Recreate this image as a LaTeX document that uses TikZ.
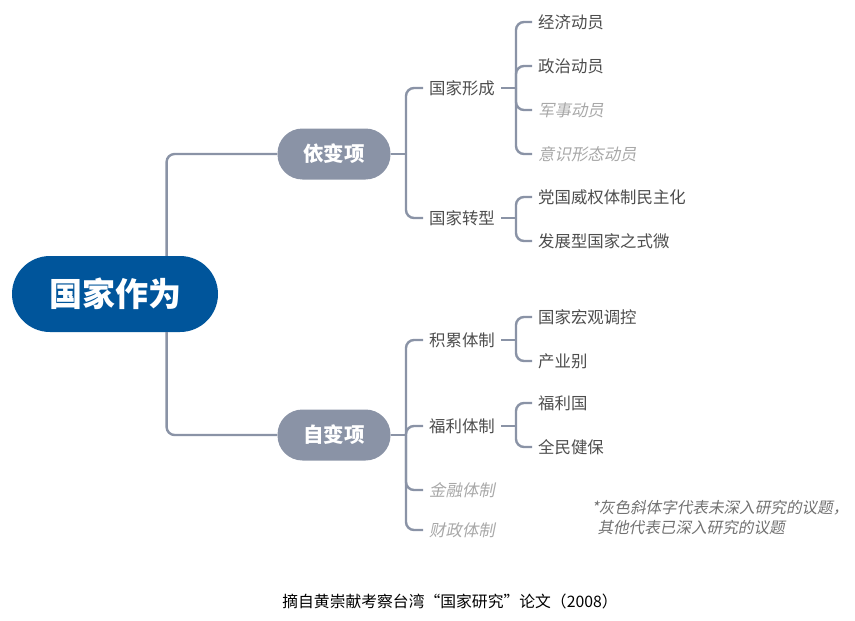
\documentclass[tikz,border=0pt]{standalone}
\usepackage{fontspec}
\setmainfont{Noto Sans CJK SC}
\newfontfamily\cjkslant[FakeSlant=0.2]{Noto Sans CJK SC}
\usetikzlibrary{calc}
\definecolor{rootblue}{HTML}{00559B}
\definecolor{branchgray}{HTML}{8A93A6}
\definecolor{textgray}{HTML}{4D4D4D}
\definecolor{fadegray}{HTML}{A8A8A8}
\begin{document}
\begin{tikzpicture}[x=1pt,y=-1pt,
	conn/.style={draw=branchgray, line width=2.4pt, rounded corners=8pt},
	rootnode/.style={fill=rootblue, text=white, rounded corners=38pt, minimum width=206pt, minimum height=76pt, font=\bfseries\fontsize{33}{36}\selectfont},
	mainnode/.style={fill=branchgray, text=white, rounded corners=25pt, minimum width=113pt, minimum height=51pt, font=\bfseries\fontsize{20.5}{24}\selectfont},
	item/.style={anchor=west, inner xsep=6pt, inner ysep=2pt, text=textgray, font=\fontsize{16.4}{19}\selectfont},
	faded/.style={item, text=fadegray, font=\cjkslant\fontsize{16.4}{19}\selectfont}]
	\useasboundingbox (0,0) rectangle (855,621);
	% root and the two main branches
	\node (root) at (115,294)	[rootnode]	{国家作为};
	\node (dep) at (334,154)	[mainnode]	{依变项};
	\node (indep) at (334,435)	[mainnode]	{自变项};
	% second level
	\node (form) at (423,88)	[item]	{国家形成};
	\node (trans) at (423,218)	[item]	{国家转型};
	\node (accum) at (423,340)	[item]	{积累体制};
	\node (welfare) at (423,426)	[item]	{福利体制};
	\node (finance) at (423,490)	[faded]	{金融体制};
	\node (fiscal) at (423,530)	[faded]	{财政体制};
	% third level
	\node (econ) at (532,22)	[item]	{经济动员};
	\node (polit) at (532,66)	[item]	{政治动员};
	\node (milit) at (532,110)	[faded]	{军事动员};
	\node (ideol) at (532,154)	[faded]	{意识形态动员};
	\node (democ) at (532,197)	[item]	{党国威权体制民主化};
	\node (devel) at (532,241)	[item]	{发展型国家之式微};
	\node (macro) at (532,317)	[item]	{国家宏观调控};
	\node (sector) at (532,361)	[item]	{产业别};
	\node (wstate) at (532,403)	[item]	{福利国};
	\node (health) at (532,447)	[item]	{全民健保};
	% note and caption
	\node (note) at (588,518)	[anchor=west, align=left, text=textgray!80, font=\cjkslant\fontsize{15.6}{20}\selectfont]	{*灰色斜体字代表未深入研究的议题，\\\hspace*{6pt}其他代表已深入研究的议题};
	\node (caption) at (450,601)	[font=\fontsize{15.8}{18}\selectfont]	{摘自黄崇献考察台湾“国家研究”论文（2008）};
	% junctions
	\coordinate (jdep) at (406,154);
	\coordinate (jindep) at (406,435);
	\coordinate (jform) at (516,88);
	\coordinate (jtrans) at (516,218);
	\coordinate (jaccum) at (516,340);
	\coordinate (jwelfare) at (516,426);
	% connectors
	\draw[conn] ($(root.north west)!0.75!(root.north east)$) |- (dep.west);
	\draw[conn] ($(root.south west)!0.75!(root.south east)$) |- (indep.west);
	\draw[conn] (dep.east) -- (jdep);
	\draw[conn] (indep.east) -- (jindep);
	\foreach \n in {form,trans}
		\draw[conn] (jdep) |- (\n.west);
	\foreach \n in {accum,welfare,finance,fiscal}
		\draw[conn] (jindep) |- (\n.west);
	\draw[conn] (form.east) -- (jform);
	\draw[conn] (trans.east) -- (jtrans);
	\draw[conn] (accum.east) -- (jaccum);
	\draw[conn] (welfare.east) -- (jwelfare);
	\foreach \n in {econ,polit,milit,ideol}
		\draw[conn] (jform) |- (\n.west);
	\foreach \n in {democ,devel}
		\draw[conn] (jtrans) |- (\n.west);
	\foreach \n in {macro,sector}
		\draw[conn] (jaccum) |- (\n.west);
	\foreach \n in {wstate,health}
		\draw[conn] (jwelfare) |- (\n.west);
\end{tikzpicture}
\end{document}
